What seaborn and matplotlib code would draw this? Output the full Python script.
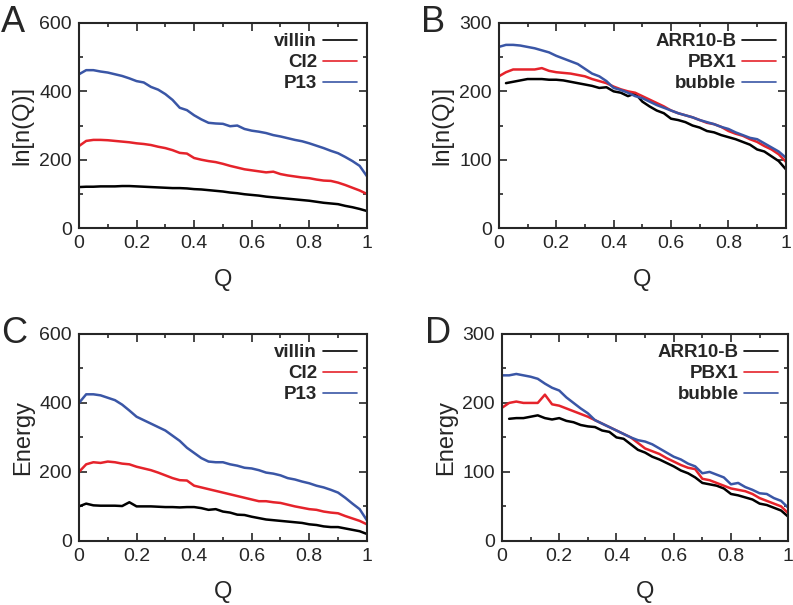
import numpy as np
import pandas as pd
import matplotlib
matplotlib.use('Agg')
import matplotlib.pyplot as plt
import seaborn as sns
from matplotlib.ticker import MultipleLocator

# %% data (Q step 0.025)
Q = np.round(np.arange(41) * 0.025, 3)
nan = np.nan

# panel A: ln[n(Q)]
a_villin = [120, 121, 121, 122, 122, 122, 123, 123, 122, 121, 120, 119, 118, 117, 117, 116,
            114, 113, 111, 109, 107, 104, 102, 99, 97, 95, 92, 90, 88, 86, 84, 82,
            80, 77, 74, 72, 70, 65, 61, 56, 50]
a_ci2 = [240, 255, 258, 258, 257, 255, 253, 251, 248, 246, 243, 238, 234, 228, 220, 218,
         205, 200, 196, 193, 188, 182, 177, 172, 169, 166, 163, 165, 158, 154, 151, 148,
         146, 142, 139, 138, 133, 126, 118, 110, 100]
a_p13 = [450, 462, 462, 458, 455, 450, 445, 438, 430, 426, 413, 405, 392, 375, 352, 345,
         330, 318, 308, 306, 305, 298, 300, 290, 285, 282, 278, 272, 268, 263, 258, 254,
         248, 241, 234, 226, 219, 208, 196, 182, 152]

# panel B: ln[n(Q)]
b_arr = [nan, 212, 214, 216, 218, 218, 218, 217, 217, 216, 214, 212, 210, 208, 205, 206,
         200, 198, 193, 197, 185, 178, 172, 168, 160, 158, 155, 150, 147, 142, 140, 136,
         133, 130, 126, 122, 115, 112, 105, 98, 86]
b_pbx = [222, 228, 232, 232, 232, 232, 234, 230, 228, 227, 226, 224, 222, 218, 215, 212,
         207, 203, 200, 198, 193, 188, 183, 178, 172, 168, 165, 162, 158, 154, 152, 148,
         142, 138, 135, 130, 126, 120, 115, 108, 97]
b_bub = [265, 268, 268, 267, 265, 263, 260, 257, 252, 248, 244, 240, 233, 226, 222, 215,
         205, 202, 198, 193, 190, 185, 180, 176, 172, 168, 165, 162, 158, 155, 152, 148,
         145, 140, 136, 132, 130, 124, 118, 112, 103]

# panel C: Energy
c_villin = [100, 108, 103, 102, 102, 102, 101, 112, 100, 100, 100, 99, 98, 98, 97, 98,
            98, 95, 90, 92, 85, 82, 76, 75, 70, 66, 62, 60, 58, 56, 54, 52,
            48, 46, 42, 40, 40, 36, 32, 28, 20]
c_ci2 = [200, 222, 228, 226, 230, 228, 224, 222, 215, 210, 205, 198, 190, 182, 176, 175,
         160, 155, 150, 145, 140, 135, 130, 125, 120, 115, 115, 112, 110, 105, 100, 96,
         92, 90, 85, 82, 80, 72, 65, 58, 48]
c_p13 = [400, 425, 425, 422, 415, 408, 395, 378, 360, 350, 340, 330, 320, 305, 290, 270,
         255, 240, 230, 228, 228, 222, 218, 212, 210, 205, 198, 195, 190, 182, 178, 172,
         167, 160, 155, 148, 140, 125, 108, 92, 60]

# panel D: Energy
d_arr = [nan, 177, 178, 178, 180, 182, 178, 176, 178, 174, 172, 168, 166, 165, 160, 158,
         150, 148, 140, 132, 128, 122, 118, 113, 108, 102, 98, 92, 84, 82, 80, 76,
         68, 66, 63, 60, 54, 52, 48, 44, 35]
d_pbx = [193, 200, 202, 200, 200, 200, 212, 198, 196, 192, 188, 184, 180, 175, 170, 165,
         160, 155, 150, 142, 134, 130, 126, 120, 115, 110, 106, 104, 90, 88, 84, 80,
         76, 74, 72, 68, 62, 58, 54, 50, 40]
d_bub = [240, 240, 242, 240, 238, 235, 228, 222, 218, 208, 200, 192, 185, 175, 170, 165,
         160, 155, 150, 146, 144, 140, 134, 128, 122, 118, 112, 108, 98, 100, 96, 92,
         82, 84, 78, 74, 69, 68, 62, 58, 48]

labels_1 = ['villin', 'CI2', 'P13']
labels_2 = ['ARR10-B', 'PBX1', 'bubble']

# %% style
sns.set_style('ticks')
plt.rcParams['font.family'] = ['Liberation Sans', 'DejaVu Sans']
colors = ['black', '#e5232b', '#3a56a6']

fig = plt.figure(figsize=(7.93, 6.05), dpi=100)

panels = [
    ('A', [0.0996, 0.623, 0.363, 0.339], [a_villin, a_ci2, a_p13], labels_1, 'ln[n(Q)]', 600),
    ('B', [0.629, 0.623, 0.362, 0.339], [b_arr, b_pbx, b_bub], labels_2, 'ln[n(Q)]', 300),
    ('C', [0.0996, 0.106, 0.363, 0.342], [c_villin, c_ci2, c_p13], labels_1, 'Energy', 600),
    ('D', [0.633, 0.106, 0.361, 0.342], [d_arr, d_pbx, d_bub], labels_2, 'Energy', 300),
]

for letter, rect, series, labels, ylabel, ymax in panels:
    ax = fig.add_axes(rect)
    df = pd.DataFrame({'Q': np.tile(Q, 3),
                       'val': np.concatenate(series),
                       'name': np.repeat(labels, len(Q))})
    sns.lineplot(data=df, x='Q', y='val', hue='name', palette=colors,
                 hue_order=labels, linewidth=1.8, ax=ax)
    ax.set_xlim(0, 1)
    ax.set_ylim(0, ymax)
    ax.xaxis.set_minor_locator(MultipleLocator(0.1))
    ax.yaxis.set_major_locator(MultipleLocator(ymax / 3))
    ax.yaxis.set_minor_locator(MultipleLocator(ymax / 6))
    ax.set_xticks([0, 0.2, 0.4, 0.6, 0.8, 1.0])
    ax.set_xticklabels(['0', '0.2', '0.4', '0.6', '0.8', '1'])
    ax.tick_params(which='both', direction='in', top=True, right=True,
                   labelsize=14, width=1.2, pad=5)
    ax.tick_params(which='major', length=6)
    ax.tick_params(which='minor', length=3)
    for s in ax.spines.values():
        s.set_linewidth(1.5)
    ax.set_xlabel('Q', fontsize=17, labelpad=12)
    ax.set_ylabel(ylabel, fontsize=17, labelpad=4)
    leg = ax.legend(loc='upper right', frameon=False, markerfirst=False,
                    handlelength=1.8, handletextpad=0.3, labelspacing=0.2,
                    borderaxespad=0.15, prop={'weight': 'bold', 'size': 13.5})
    for h in leg.get_lines():
        h.set_linewidth(1.2)
    ax.text(-0.27, 1.0, letter, transform=ax.transAxes, fontsize=26,
            ha='left', va='center')

fig.savefig('out.png', dpi=100)
